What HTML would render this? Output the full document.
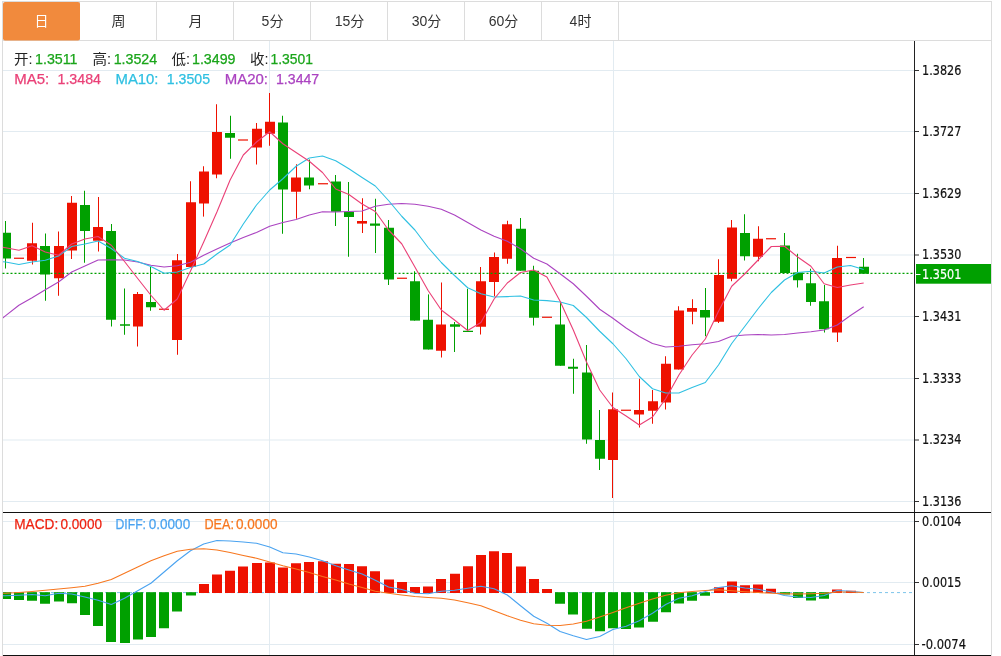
<!DOCTYPE html>
<html lang="zh-CN"><head><meta charset="utf-8"><title>K线图</title>
<style>
html,body{margin:0;padding:0;background:#fff;}
svg{display:block;}
.t{font-family:"Liberation Sans","Noto Sans CJK SC",sans-serif;}
.b{stroke-width:0.25px;}
.ax{font-family:"DejaVu Sans Condensed","Liberation Sans",sans-serif;font-size:14px;fill:#111;stroke:#111;stroke-width:0.2px;}
</style></head><body>
<svg width="1001" height="656" viewBox="0 0 1001 656">
<rect x="0" y="0" width="1001" height="656" fill="#fff"/>
<g shape-rendering="crispEdges">
<rect x="2.5" y="1.5" width="989" height="660" fill="none" stroke="#dcdcdc" stroke-width="1"/>
<rect x="3" y="40" width="988" height="1" fill="#dcdcdc"/>
<rect x="79" y="2" width="1" height="38" fill="#dcdcdc"/>
<rect x="156" y="2" width="1" height="38" fill="#dcdcdc"/>
<rect x="233" y="2" width="1" height="38" fill="#dcdcdc"/>
<rect x="310" y="2" width="1" height="38" fill="#dcdcdc"/>
<rect x="387" y="2" width="1" height="38" fill="#dcdcdc"/>
<rect x="464" y="2" width="1" height="38" fill="#dcdcdc"/>
<rect x="541" y="2" width="1" height="38" fill="#dcdcdc"/>
<rect x="618" y="2" width="1" height="38" fill="#dcdcdc"/>
</g>
<rect x="3" y="2" width="77" height="38.5" rx="2" ry="2" fill="#f18a3d"/>
<text class="t" x="41.5" y="26.3" font-size="14" text-anchor="middle" fill="#fff">日</text>
<text class="t" x="118.5" y="26.3" font-size="14" text-anchor="middle" fill="#333">周</text>
<text class="t" x="195.5" y="26.3" font-size="14" text-anchor="middle" fill="#333">月</text>
<text class="t" x="272.5" y="26.3" font-size="14" text-anchor="middle" fill="#333">5分</text>
<text class="t" x="349.5" y="26.3" font-size="14" text-anchor="middle" fill="#333">15分</text>
<text class="t" x="426.5" y="26.3" font-size="14" text-anchor="middle" fill="#333">30分</text>
<text class="t" x="503.5" y="26.3" font-size="14" text-anchor="middle" fill="#333">60分</text>
<text class="t" x="580.5" y="26.3" font-size="14" text-anchor="middle" fill="#333">4时</text>
<g fill="#e2ebf1">
<rect x="3" y="70" width="911" height="1"/>
<rect x="3" y="131" width="911" height="1"/>
<rect x="3" y="193" width="911" height="1"/>
<rect x="3" y="254.5" width="911" height="1"/>
<rect x="3" y="316" width="911" height="1"/>
<rect x="3" y="378" width="911" height="1"/>
<rect x="3" y="439.5" width="911" height="1"/>
<rect x="3" y="501" width="911" height="1"/>
<rect x="3" y="521" width="911" height="1"/>
<rect x="3" y="582" width="911" height="1"/>
<rect x="3" y="644" width="911" height="1"/>
</g>
<g shape-rendering="crispEdges" fill="#e2ebf1">
<rect x="269" y="41" width="1" height="471"/>
<rect x="269" y="513" width="1" height="142"/>
<rect x="613" y="41" width="1" height="471"/>
<rect x="613" y="513" width="1" height="142"/>
</g>
<defs><clipPath id="cp"><rect x="3" y="41" width="911" height="471"/></clipPath><clipPath id="cp2"><rect x="3" y="513" width="911" height="142"/></clipPath></defs>
<g clip-path="url(#cp)">
<rect x="5" y="221.00" width="1" height="47.50" fill="#00a000"/><rect x="1" y="232.75" width="10" height="25.75" fill="#00a000"/>
<rect x="14" y="257.65" width="10" height="1.2" fill="#ee1100"/>
<rect x="32" y="222.75" width="1" height="41.75" fill="#ee1100"/><rect x="27" y="243.25" width="10" height="17.50" fill="#ee1100"/>
<rect x="45" y="233.50" width="1" height="67.25" fill="#00a000"/><rect x="40" y="246.00" width="10" height="28.50" fill="#00a000"/>
<rect x="58" y="231.50" width="1" height="64.25" fill="#ee1100"/><rect x="54" y="246.00" width="10" height="32.25" fill="#ee1100"/>
<rect x="71" y="196.00" width="1" height="63.00" fill="#ee1100"/><rect x="67" y="202.75" width="10" height="47.75" fill="#ee1100"/>
<rect x="84" y="190.75" width="1" height="72.00" fill="#00a000"/><rect x="80" y="205.00" width="10" height="26.00" fill="#00a000"/>
<rect x="98" y="197.00" width="1" height="54.50" fill="#ee1100"/><rect x="93" y="227.00" width="10" height="13.75" fill="#ee1100"/>
<rect x="111" y="224.00" width="1" height="102.50" fill="#00a000"/><rect x="106" y="231.00" width="10" height="88.75" fill="#00a000"/>
<rect x="124" y="288.50" width="1" height="46.25" fill="#00a000"/><rect x="120" y="324.25" width="10" height="1.50" fill="#00a000"/>
<rect x="137" y="292.00" width="1" height="54.50" fill="#ee1100"/><rect x="133" y="294.00" width="10" height="32.50" fill="#ee1100"/>
<rect x="150" y="267.00" width="1" height="43.75" fill="#00a000"/><rect x="146" y="302.00" width="10" height="5.25" fill="#00a000"/>
<rect x="159" y="308.65" width="10" height="1.2" fill="#ee1100"/>
<rect x="177" y="254.00" width="1" height="100.75" fill="#ee1100"/><rect x="172" y="260.25" width="10" height="79.75" fill="#ee1100"/>
<rect x="190" y="181.25" width="1" height="85.75" fill="#ee1100"/><rect x="186" y="202.25" width="10" height="64.75" fill="#ee1100"/>
<rect x="203" y="166.25" width="1" height="50.35" fill="#ee1100"/><rect x="199" y="171.50" width="10" height="32.00" fill="#ee1100"/>
<rect x="216" y="104.25" width="1" height="74.00" fill="#ee1100"/><rect x="212" y="132.00" width="10" height="42.50" fill="#ee1100"/>
<rect x="230" y="115.75" width="1" height="43.00" fill="#00a000"/><rect x="225" y="133.00" width="10" height="4.75" fill="#00a000"/>
<rect x="238" y="139.40" width="10" height="1.2" fill="#ee1100"/>
<rect x="256" y="123.00" width="1" height="41.50" fill="#ee1100"/><rect x="252" y="128.75" width="10" height="18.75" fill="#ee1100"/>
<rect x="269" y="93.00" width="1" height="52.75" fill="#ee1100"/><rect x="265" y="121.75" width="10" height="12.00" fill="#ee1100"/>
<rect x="282" y="115.75" width="1" height="118.00" fill="#00a000"/><rect x="278" y="122.50" width="10" height="67.00" fill="#00a000"/>
<rect x="296" y="164.25" width="1" height="54.50" fill="#ee1100"/><rect x="291" y="177.50" width="10" height="14.25" fill="#ee1100"/>
<rect x="309" y="159.50" width="1" height="29.75" fill="#00a000"/><rect x="304" y="177.50" width="10" height="8.00" fill="#00a000"/>
<rect x="318" y="183.15" width="10" height="1.2" fill="#ee1100"/>
<rect x="335" y="175.00" width="1" height="51.00" fill="#00a000"/><rect x="331" y="181.50" width="10" height="30.25" fill="#00a000"/>
<rect x="348" y="182.00" width="1" height="74.75" fill="#00a000"/><rect x="344" y="211.75" width="10" height="5.25" fill="#00a000"/>
<rect x="362" y="198.25" width="1" height="34.75" fill="#ee1100"/><rect x="357" y="221.00" width="10" height="2.60" fill="#ee1100"/>
<rect x="375" y="198.75" width="1" height="54.25" fill="#00a000"/><rect x="370" y="223.50" width="10" height="2.25" fill="#00a000"/>
<rect x="388" y="220.00" width="1" height="65.00" fill="#00a000"/><rect x="384" y="227.75" width="10" height="51.75" fill="#00a000"/>
<rect x="397" y="277.65" width="10" height="1.2" fill="#ee1100"/>
<rect x="414" y="271.25" width="1" height="49.35" fill="#00a000"/><rect x="410" y="281.25" width="10" height="39.35" fill="#00a000"/>
<rect x="428" y="294.40" width="1" height="55.10" fill="#00a000"/><rect x="423" y="319.75" width="10" height="29.75" fill="#00a000"/>
<rect x="441" y="282.50" width="1" height="75.00" fill="#ee1100"/><rect x="436" y="324.50" width="10" height="26.25" fill="#ee1100"/>
<rect x="454" y="322.00" width="1" height="30.00" fill="#00a000"/><rect x="450" y="324.25" width="10" height="2.50" fill="#00a000"/>
<rect x="467" y="288.75" width="1" height="43.25" fill="#00a000"/><rect x="463" y="330.75" width="10" height="1.25" fill="#00a000"/>
<rect x="480" y="267.00" width="1" height="67.50" fill="#ee1100"/><rect x="476" y="281.25" width="10" height="45.50" fill="#ee1100"/>
<rect x="494" y="252.50" width="1" height="43.75" fill="#ee1100"/><rect x="489" y="257.00" width="10" height="25.00" fill="#ee1100"/>
<rect x="507" y="220.75" width="1" height="43.00" fill="#ee1100"/><rect x="502" y="224.25" width="10" height="34.50" fill="#ee1100"/>
<rect x="520" y="218.00" width="1" height="52.75" fill="#00a000"/><rect x="516" y="228.75" width="10" height="42.00" fill="#00a000"/>
<rect x="533" y="265.75" width="1" height="59.75" fill="#00a000"/><rect x="529" y="270.75" width="10" height="47.00" fill="#00a000"/>
<rect x="542" y="316.65" width="10" height="1.2" fill="#ee1100"/>
<rect x="560" y="303.00" width="1" height="62.75" fill="#00a000"/><rect x="555" y="324.50" width="10" height="41.25" fill="#00a000"/>
<rect x="573" y="358.75" width="1" height="35.00" fill="#00a000"/><rect x="568" y="366.75" width="10" height="2.00" fill="#00a000"/>
<rect x="586" y="345.00" width="1" height="98.75" fill="#00a000"/><rect x="582" y="372.50" width="10" height="67.00" fill="#00a000"/>
<rect x="599" y="410.00" width="1" height="60.00" fill="#00a000"/><rect x="595" y="440.00" width="10" height="18.75" fill="#00a000"/>
<rect x="612" y="392.50" width="1" height="105.50" fill="#ee1100"/><rect x="608" y="409.25" width="10" height="50.75" fill="#ee1100"/>
<rect x="621" y="409.65" width="10" height="1.2" fill="#ee1100"/>
<rect x="639" y="378.75" width="1" height="48.75" fill="#ee1100"/><rect x="634" y="410.00" width="10" height="4.50" fill="#ee1100"/>
<rect x="652" y="390.00" width="1" height="33.75" fill="#ee1100"/><rect x="648" y="401.25" width="10" height="9.50" fill="#ee1100"/>
<rect x="665" y="356.25" width="1" height="53.25" fill="#ee1100"/><rect x="661" y="363.75" width="10" height="38.75" fill="#ee1100"/>
<rect x="678" y="306.25" width="1" height="63.25" fill="#ee1100"/><rect x="674" y="310.50" width="10" height="59.00" fill="#ee1100"/>
<rect x="692" y="299.25" width="1" height="25.00" fill="#ee1100"/><rect x="687" y="308.00" width="10" height="3.75" fill="#ee1100"/>
<rect x="705" y="288.00" width="1" height="48.25" fill="#00a000"/><rect x="700" y="310.00" width="10" height="7.50" fill="#00a000"/>
<rect x="718" y="259.25" width="1" height="63.75" fill="#ee1100"/><rect x="714" y="275.00" width="10" height="46.75" fill="#ee1100"/>
<rect x="731" y="220.00" width="1" height="61.25" fill="#ee1100"/><rect x="727" y="227.50" width="10" height="51.25" fill="#ee1100"/>
<rect x="744" y="214.25" width="1" height="46.25" fill="#00a000"/><rect x="740" y="233.00" width="10" height="23.25" fill="#00a000"/>
<rect x="758" y="226.25" width="1" height="35.00" fill="#ee1100"/><rect x="753" y="238.75" width="10" height="18.00" fill="#ee1100"/>
<rect x="766" y="238.15" width="10" height="1.2" fill="#ee1100"/>
<rect x="784" y="233.00" width="1" height="40.00" fill="#00a000"/><rect x="780" y="245.50" width="10" height="27.50" fill="#00a000"/>
<rect x="797" y="253.75" width="1" height="33.75" fill="#00a000"/><rect x="793" y="272.50" width="10" height="7.75" fill="#00a000"/>
<rect x="810" y="268.75" width="1" height="37.00" fill="#00a000"/><rect x="806" y="283.25" width="10" height="18.75" fill="#00a000"/>
<rect x="824" y="285.00" width="1" height="47.50" fill="#00a000"/><rect x="819" y="301.25" width="10" height="28.00" fill="#00a000"/>
<rect x="837" y="245.75" width="1" height="96.25" fill="#ee1100"/><rect x="832" y="258.00" width="10" height="74.50" fill="#ee1100"/>
<rect x="846" y="256.90" width="10" height="1.2" fill="#ee1100"/>
<rect x="863" y="258.00" width="1" height="15.75" fill="#00a000"/><rect x="859" y="266.75" width="10" height="7.00" fill="#00a000"/>
</g>
<line x1="2.5" y1="273.4" x2="913" y2="273.4" stroke="#00a000" stroke-width="1.2" stroke-dasharray="2 2"/>
<g clip-path="url(#cp)" fill="none" stroke-width="1.1" stroke-linejoin="round">
<polyline points="-7.5,326.00 5.7,315.60 18.9,305.25 32.1,297.75 45.3,289.75 58.5,282.00 71.7,272.00 84.9,266.00 98.1,260.00 111.3,259.75 124.5,260.00 137.7,262.00 150.9,265.25 164.1,267.00 177.3,265.75 190.5,262.25 203.7,255.25 216.9,249.00 230.1,243.00 243.3,237.50 256.5,232.50 269.7,226.25 282.9,222.50 296.1,219.50 309.3,215.00 322.5,211.75 335.7,212.00 348.9,211.50 362.1,211.00 375.3,206.25 388.5,204.25 401.7,203.50 414.9,204.25 428.1,206.25 441.3,209.25 454.5,215.00 467.7,222.50 480.9,230.00 494.1,236.25 507.3,241.25 520.5,248.75 533.7,258.25 546.9,264.00 560.1,273.75 573.3,283.75 586.5,296.25 599.7,309.25 612.9,318.25 626.1,328.00 639.3,336.50 652.5,343.50 665.7,347.00 678.9,346.25 692.1,344.75 705.3,343.75 718.5,341.50 731.7,336.25 744.9,335.00 758.1,334.50 771.3,335.00 784.5,334.50 797.7,333.00 810.9,331.75 824.1,330.00 837.3,325.00 850.5,315.50 863.7,306.75" stroke="#ab44c1"/>
<polyline points="-7.5,261.00 5.7,262.00 18.9,264.50 32.1,262.00 45.3,260.25 58.5,256.00 71.7,246.50 84.9,244.00 98.1,241.00 111.3,248.50 124.5,258.25 137.7,261.50 150.9,266.50 164.1,273.25 177.3,272.00 190.5,267.50 203.7,264.00 216.9,254.00 230.1,245.00 243.3,224.00 256.5,205.00 269.7,190.00 282.9,178.75 296.1,166.25 309.3,158.00 322.5,156.00 335.7,160.75 348.9,168.75 362.1,177.50 375.3,186.00 388.5,200.50 401.7,216.25 414.9,230.00 428.1,247.50 441.3,262.50 454.5,275.50 467.7,287.75 480.9,293.75 494.1,297.00 507.3,296.60 520.5,296.00 533.7,300.00 546.9,300.60 560.1,302.00 573.3,305.50 586.5,317.50 599.7,331.25 612.9,343.75 626.1,358.75 639.3,376.50 652.5,388.75 665.7,393.00 678.9,393.00 692.1,387.50 705.3,382.50 718.5,365.00 731.7,343.50 744.9,326.25 758.1,308.75 771.3,292.50 784.5,280.00 797.7,272.50 810.9,271.25 824.1,273.00 837.3,267.00 850.5,265.50 863.7,269.50" stroke="#2fc0e2"/>
<polyline points="-7.5,246.00 5.7,247.75 18.9,250.25 32.1,245.75 45.3,252.00 58.5,255.25 71.7,244.00 84.9,239.00 98.1,236.50 111.3,245.25 124.5,261.50 137.7,278.50 150.9,295.25 164.1,310.25 177.3,299.00 190.5,271.00 203.7,242.00 216.9,212.00 230.1,180.00 243.3,155.00 256.5,142.00 269.7,131.75 282.9,143.75 296.1,152.50 309.3,161.25 322.5,172.50 335.7,189.00 348.9,194.50 362.1,204.00 375.3,211.50 388.5,230.00 401.7,243.75 414.9,267.00 428.1,290.50 441.3,310.00 454.5,320.00 467.7,330.50 480.9,322.50 494.1,299.00 507.3,283.00 520.5,272.50 533.7,270.00 546.9,277.00 560.1,301.25 573.3,330.00 586.5,362.00 599.7,390.00 612.9,407.50 626.1,416.00 639.3,425.00 652.5,417.00 665.7,398.75 678.9,375.00 692.1,355.00 705.3,339.00 718.5,311.25 731.7,286.25 744.9,273.75 758.1,260.00 771.3,246.50 784.5,246.25 797.7,257.00 810.9,266.25 824.1,283.75 837.3,287.50 850.5,285.00 863.7,283.00" stroke="#ea4077"/>
</g>
<g clip-path="url(#cp2)">
<line x1="3" y1="592.60" x2="912" y2="592.60" stroke="#7cc4ea" stroke-width="1" stroke-dasharray="3 3"/>
<rect x="1" y="592.20" width="10" height="6.80" fill="#00a000"/>
<rect x="14" y="592.20" width="10" height="7.80" fill="#00a000"/>
<rect x="27" y="592.20" width="10" height="8.55" fill="#00a000"/>
<rect x="40" y="592.20" width="10" height="11.55" fill="#00a000"/>
<rect x="54" y="592.20" width="10" height="9.30" fill="#00a000"/>
<rect x="67" y="592.20" width="10" height="11.05" fill="#00a000"/>
<rect x="80" y="592.20" width="10" height="22.80" fill="#00a000"/>
<rect x="93" y="592.20" width="10" height="33.80" fill="#00a000"/>
<rect x="106" y="592.20" width="10" height="49.80" fill="#00a000"/>
<rect x="120" y="592.20" width="10" height="50.80" fill="#00a000"/>
<rect x="133" y="592.20" width="10" height="47.30" fill="#00a000"/>
<rect x="146" y="592.20" width="10" height="44.80" fill="#00a000"/>
<rect x="159" y="592.20" width="10" height="36.05" fill="#00a000"/>
<rect x="172" y="592.20" width="10" height="19.30" fill="#00a000"/>
<rect x="186" y="592.20" width="10" height="3.30" fill="#00a000"/>
<rect x="199" y="584.00" width="10" height="9.00" fill="#ee1100"/>
<rect x="212" y="574.50" width="10" height="18.50" fill="#ee1100"/>
<rect x="225" y="570.75" width="10" height="22.25" fill="#ee1100"/>
<rect x="238" y="566.50" width="10" height="26.50" fill="#ee1100"/>
<rect x="252" y="563.00" width="10" height="30.00" fill="#ee1100"/>
<rect x="265" y="562.50" width="10" height="30.50" fill="#ee1100"/>
<rect x="278" y="567.50" width="10" height="25.50" fill="#ee1100"/>
<rect x="291" y="563.25" width="10" height="29.75" fill="#ee1100"/>
<rect x="304" y="562.00" width="10" height="31.00" fill="#ee1100"/>
<rect x="318" y="561.25" width="10" height="31.75" fill="#ee1100"/>
<rect x="331" y="563.75" width="10" height="29.25" fill="#ee1100"/>
<rect x="344" y="564.00" width="10" height="29.00" fill="#ee1100"/>
<rect x="357" y="566.25" width="10" height="26.75" fill="#ee1100"/>
<rect x="370" y="571.25" width="10" height="21.75" fill="#ee1100"/>
<rect x="384" y="579.50" width="10" height="13.50" fill="#ee1100"/>
<rect x="397" y="582.00" width="10" height="11.00" fill="#ee1100"/>
<rect x="410" y="587.00" width="10" height="6.00" fill="#ee1100"/>
<rect x="423" y="586.50" width="10" height="6.50" fill="#ee1100"/>
<rect x="436" y="579.00" width="10" height="14.00" fill="#ee1100"/>
<rect x="450" y="573.75" width="10" height="19.25" fill="#ee1100"/>
<rect x="463" y="566.25" width="10" height="26.75" fill="#ee1100"/>
<rect x="476" y="555.00" width="10" height="38.00" fill="#ee1100"/>
<rect x="489" y="551.25" width="10" height="41.75" fill="#ee1100"/>
<rect x="502" y="553.00" width="10" height="40.00" fill="#ee1100"/>
<rect x="516" y="566.50" width="10" height="26.50" fill="#ee1100"/>
<rect x="529" y="579.00" width="10" height="14.00" fill="#ee1100"/>
<rect x="542" y="589.00" width="10" height="4.00" fill="#ee1100"/>
<rect x="555" y="592.20" width="10" height="11.55" fill="#00a000"/>
<rect x="568" y="592.20" width="10" height="22.30" fill="#00a000"/>
<rect x="582" y="592.20" width="10" height="36.55" fill="#00a000"/>
<rect x="595" y="592.20" width="10" height="39.05" fill="#00a000"/>
<rect x="608" y="592.20" width="10" height="36.05" fill="#00a000"/>
<rect x="621" y="592.20" width="10" height="36.80" fill="#00a000"/>
<rect x="634" y="592.20" width="10" height="35.30" fill="#00a000"/>
<rect x="648" y="592.20" width="10" height="29.55" fill="#00a000"/>
<rect x="661" y="592.20" width="10" height="20.05" fill="#00a000"/>
<rect x="674" y="592.20" width="10" height="11.30" fill="#00a000"/>
<rect x="687" y="592.20" width="10" height="8.55" fill="#00a000"/>
<rect x="700" y="592.20" width="10" height="3.55" fill="#00a000"/>
<rect x="714" y="587.25" width="10" height="5.75" fill="#ee1100"/>
<rect x="727" y="581.50" width="10" height="11.50" fill="#ee1100"/>
<rect x="740" y="585.25" width="10" height="7.75" fill="#ee1100"/>
<rect x="753" y="584.50" width="10" height="8.50" fill="#ee1100"/>
<rect x="766" y="588.75" width="10" height="4.25" fill="#ee1100"/>
<rect x="780" y="592.20" width="10" height="2.30" fill="#00a000"/>
<rect x="793" y="592.20" width="10" height="5.80" fill="#00a000"/>
<rect x="806" y="592.20" width="10" height="8.30" fill="#00a000"/>
<rect x="819" y="592.20" width="10" height="6.55" fill="#00a000"/>
<rect x="832" y="589.50" width="10" height="3.50" fill="#ee1100"/>
<rect x="846" y="590.75" width="10" height="2.25" fill="#ee1100"/>
<g fill="none" stroke-width="1.1" stroke-linejoin="round">
<polyline points="-7.5,596.00 5.7,595.75 18.9,595.25 32.1,594.50 45.3,595.75 58.5,593.25 71.7,594.00 84.9,597.00 98.1,600.25 111.3,604.50 124.5,598.25 137.7,590.75 150.9,583.25 164.1,572.00 177.3,560.75 190.5,550.75 203.7,544.00 216.9,540.50 230.1,541.00 243.3,542.00 256.5,543.25 269.7,547.00 282.9,552.75 296.1,554.00 309.3,557.00 322.5,560.75 335.7,565.75 348.9,570.00 362.1,574.00 375.3,580.25 388.5,587.00 401.7,589.50 414.9,593.25 428.1,593.75 441.3,591.25 454.5,590.25 467.7,588.25 480.9,586.25 494.1,588.75 507.3,595.00 520.5,605.75 533.7,616.25 546.9,623.25 560.1,631.50 573.3,635.75 586.5,639.50 599.7,636.50 612.9,629.50 626.1,626.25 639.3,620.75 652.5,613.25 665.7,604.50 678.9,598.25 692.1,595.75 705.3,591.50 718.5,587.50 731.7,585.75 744.9,588.00 758.1,589.25 771.3,592.00 784.5,595.50 797.7,597.00 810.9,597.50 824.1,595.50 837.3,590.50 850.5,591.25 863.7,592.50" stroke="#4aa3f0"/>
<polyline points="-7.5,593.50 5.7,593.25 18.9,592.50 32.1,591.50 45.3,590.25 58.5,589.00 71.7,587.75 84.9,586.25 98.1,583.25 111.3,579.50 124.5,573.25 137.7,567.00 150.9,560.75 164.1,555.75 177.3,551.25 190.5,549.25 203.7,548.75 216.9,550.00 230.1,552.50 243.3,555.50 256.5,558.25 269.7,562.00 282.9,565.75 296.1,569.00 309.3,572.50 322.5,576.50 335.7,580.00 348.9,584.00 362.1,587.50 375.3,591.25 388.5,593.25 401.7,595.00 414.9,596.50 428.1,597.50 441.3,598.25 454.5,600.00 467.7,602.75 480.9,605.75 494.1,610.75 507.3,615.75 520.5,620.25 533.7,623.75 546.9,625.25 560.1,625.50 573.3,624.00 586.5,621.25 599.7,617.00 612.9,612.50 626.1,607.75 639.3,603.25 652.5,599.00 665.7,595.25 678.9,592.75 692.1,591.50 705.3,590.50 718.5,589.75 731.7,590.75 744.9,591.75 758.1,592.50 771.3,593.25 784.5,593.75 797.7,594.00 810.9,593.75 824.1,593.25 837.3,592.00 850.5,592.00 863.7,592.50" stroke="#f7771f"/>
</g></g>
<g shape-rendering="crispEdges" fill="#222">
<rect x="914" y="41" width="1" height="615"/>
<rect x="3" y="512" width="988" height="1" fill="#111"/>
<rect x="3" y="655" width="988" height="1" fill="#111"/>
</g>
<g fill="#333">
<rect x="915" y="70" width="4" height="1"/>
<rect x="915" y="131" width="4" height="1"/>
<rect x="915" y="193" width="4" height="1"/>
<rect x="915" y="254.5" width="4" height="1"/>
<rect x="915" y="316" width="4" height="1"/>
<rect x="915" y="378" width="4" height="1"/>
<rect x="915" y="439.5" width="4" height="1"/>
<rect x="915" y="501" width="4" height="1"/>
<rect x="915" y="521" width="4" height="1"/>
<rect x="915" y="582" width="4" height="1"/>
<rect x="915" y="644" width="4" height="1"/>
</g>
<text class="ax" x="922.1" y="74.9" textLength="39.2" lengthAdjust="spacingAndGlyphs">1.3826</text>
<text class="ax" x="922.1" y="135.9" textLength="39.2" lengthAdjust="spacingAndGlyphs">1.3727</text>
<text class="ax" x="922.1" y="197.9" textLength="39.2" lengthAdjust="spacingAndGlyphs">1.3629</text>
<text class="ax" x="922.1" y="259.4" textLength="39.2" lengthAdjust="spacingAndGlyphs">1.3530</text>
<text class="ax" x="922.1" y="320.9" textLength="39.2" lengthAdjust="spacingAndGlyphs">1.3431</text>
<text class="ax" x="922.1" y="382.9" textLength="39.2" lengthAdjust="spacingAndGlyphs">1.3333</text>
<text class="ax" x="922.1" y="444.4" textLength="39.2" lengthAdjust="spacingAndGlyphs">1.3234</text>
<text class="ax" x="922.1" y="505.9" textLength="39.2" lengthAdjust="spacingAndGlyphs">1.3136</text>
<text class="ax" x="922.1" y="525.9" textLength="39.2" lengthAdjust="spacingAndGlyphs">0.0104</text>
<text class="ax" x="922.1" y="586.9" textLength="39.2" lengthAdjust="spacingAndGlyphs">0.0015</text>
<text class="ax" x="921.5" y="648.9" textLength="44.5" lengthAdjust="spacingAndGlyphs">-0.0074</text>
<rect x="916" y="264" width="75" height="19.7" fill="#00a000"/>
<rect x="916" y="274" width="4.5" height="1" fill="#fff"/>
<text class="ax" x="922.1" y="279" textLength="39.2" lengthAdjust="spacingAndGlyphs" style="fill:#fff;stroke:#fff">1.3501</text>
<text class="t" x="14.0" y="63.6" font-size="14" fill="#222" stroke="none" textLength="18.5" lengthAdjust="spacingAndGlyphs">开:</text>
<text class="t b" x="35.0" y="63.6" font-size="14" fill="#1aa51a" stroke="#1aa51a" textLength="42.5" lengthAdjust="spacingAndGlyphs">1.3511</text>
<text class="t" x="92.5" y="63.6" font-size="14" fill="#222" stroke="none" textLength="18.5" lengthAdjust="spacingAndGlyphs">高:</text>
<text class="t b" x="113.7" y="63.6" font-size="14" fill="#1aa51a" stroke="#1aa51a" textLength="43.5" lengthAdjust="spacingAndGlyphs">1.3524</text>
<text class="t" x="171.5" y="63.6" font-size="14" fill="#222" stroke="none" textLength="18.5" lengthAdjust="spacingAndGlyphs">低:</text>
<text class="t b" x="192.0" y="63.6" font-size="14" fill="#1aa51a" stroke="#1aa51a" textLength="43.5" lengthAdjust="spacingAndGlyphs">1.3499</text>
<text class="t" x="250.0" y="63.6" font-size="14" fill="#222" stroke="none" textLength="18.5" lengthAdjust="spacingAndGlyphs">收:</text>
<text class="t b" x="270.5" y="63.6" font-size="14" fill="#1aa51a" stroke="#1aa51a" textLength="42.5" lengthAdjust="spacingAndGlyphs">1.3501</text>
<text class="t b" x="14.2" y="83.8" font-size="14" fill="#ea4077" stroke="#ea4077" textLength="35.0" lengthAdjust="spacingAndGlyphs">MA5:</text>
<text class="t b" x="57.5" y="83.8" font-size="14" fill="#ea4077" stroke="#ea4077" textLength="43.5" lengthAdjust="spacingAndGlyphs">1.3484</text>
<text class="t b" x="115.5" y="83.8" font-size="14" fill="#2fc0e2" stroke="#2fc0e2" textLength="43.0" lengthAdjust="spacingAndGlyphs">MA10:</text>
<text class="t b" x="166.8" y="83.8" font-size="14" fill="#2fc0e2" stroke="#2fc0e2" textLength="43.2" lengthAdjust="spacingAndGlyphs">1.3505</text>
<text class="t b" x="224.7" y="83.8" font-size="14" fill="#ab44c1" stroke="#ab44c1" textLength="43.3" lengthAdjust="spacingAndGlyphs">MA20:</text>
<text class="t b" x="276.0" y="83.8" font-size="14" fill="#ab44c1" stroke="#ab44c1" textLength="43.2" lengthAdjust="spacingAndGlyphs">1.3447</text>
<text class="t b" x="14.2" y="529.0" font-size="14" fill="#ee2211" stroke="#ee2211" textLength="44.0" lengthAdjust="spacingAndGlyphs">MACD:</text>
<text class="t b" x="60.5" y="529.0" font-size="14" fill="#ee2211" stroke="#ee2211" textLength="41.5" lengthAdjust="spacingAndGlyphs">0.0000</text>
<text class="t b" x="115.5" y="529.0" font-size="14" fill="#4aa3f0" stroke="#4aa3f0" textLength="30.5" lengthAdjust="spacingAndGlyphs">DIFF:</text>
<text class="t b" x="148.7" y="529.0" font-size="14" fill="#4aa3f0" stroke="#4aa3f0" textLength="41.5" lengthAdjust="spacingAndGlyphs">0.0000</text>
<text class="t b" x="204.5" y="529.0" font-size="14" fill="#f7771f" stroke="#f7771f" textLength="29.5" lengthAdjust="spacingAndGlyphs">DEA:</text>
<text class="t b" x="236.0" y="529.0" font-size="14" fill="#f7771f" stroke="#f7771f" textLength="41.5" lengthAdjust="spacingAndGlyphs">0.0000</text>
</svg>
</body></html>
